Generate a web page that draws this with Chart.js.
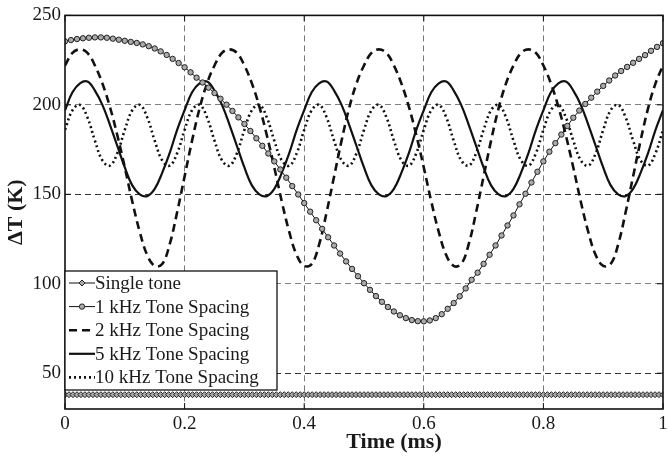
<!DOCTYPE html>
<html>
<head>
<meta charset="utf-8">
<script src="https://cdn.jsdelivr.net/npm/chart.js@4/dist/chart.umd.min.js"></script>
<style>
  body { margin: 0; background: #fff; }
  #wrap { width: 668px; height: 461px; }
</style>
</head>
<body>
<div id="wrap"><canvas id="chart" width="668" height="461"></canvas></div>
<script>
// tick positions
const xTicks = [0, 0.2, 0.4, 0.6, 0.8, 1];
const yTicks = [50, 100, 150, 200, 250];

// sample times (ms)
const steps = n => Array.from({ length: n + 1 }, (_, i) => i / n);
const tSingle = steps(150);
const t1k = steps(100);
const tWave = steps(80);

// Delta T (K)
const singleTone = [
  38,38,38,38,38,38,38,38,38,38,38,38,38,38,38,38,38,38,38,38,38,38,38,38,38,
  38,38,38,38,38,38,38,38,38,38,38,38,38,38,38,38,38,38,38,38,38,38,38,38,38,
  38,38,38,38,38,38,38,38,38,38,38,38,38,38,38,38,38,38,38,38,38,38,38,38,38,
  38,38,38,38,38,38,38,38,38,38,38,38,38,38,38,38,38,38,38,38,38,38,38,38,38,
  38,38,38,38,38,38,38,38,38,38,38,38,38,38,38,38,38,38,38,38,38,38,38,38,38,
  38,38,38,38,38,38,38,38,38,38,38,38,38,38,38,38,38,38,38,38,38,38,38,38,38,38
];
const spacing1k = [
  235.5,236.2,236.8,237.2,237.5,237.7,237.7,237.5,237.0,236.4,
  235.8,235.2,234.6,233.8,232.8,231.5,229.9,227.9,225.7,223.4,
  221.0,218.2,215.2,212.5,209.6,206.6,203.4,200.1,196.6,193.0,
  189.3,185.4,181.3,177.1,172.8,168.4,163.9,159.3,154.6,149.9,
  145.1,140.3,135.5,130.7,126.0,121.4,116.9,112.5,108.3,104.2,
  100.3,96.6,93.1,89.9,87.0,84.5,82.4,80.8,79.7,79.1,
  79.0,79.5,80.8,83.0,86.0,89.2,93.0,97.4,102.2,106.2,
  111.1,116.2,121.4,127.0,132.6,138.2,144.4,150.3,156.6,162.6,
  168.4,173.8,178.6,183.4,188.2,192.8,196.8,200.5,204.0,207.4,
  210.6,213.6,216.4,218.9,221.2,223.5,225.7,227.8,230.2,232.4,
  234.5
];
const spacing2k = [
  222,229,231,229,222,212,199,183,165,146,129,116,110,111,122,140,160,180,198,212,
  222,229,231,229,222,212,199,183,165,146,129,116,110,111,122,140,160,180,198,212,
  222,229,231,229,222,212,199,183,165,146,129,116,110,111,122,140,160,180,198,212,
  222,229,231,229,222,212,199,183,165,146,129,116,110,111,122,140,160,180,198,212,
  222
];
const spacing5k = [
  197,207,212,213,208,200,189,177,165,155,150,149,153,162,173,186,
  197,207,212,213,208,200,189,177,165,155,150,149,153,162,173,186,
  197,207,212,213,208,200,189,177,165,155,150,149,153,162,173,186,
  197,207,212,213,208,200,189,177,165,155,150,149,153,162,173,186,
  197,207,212,213,208,200,189,177,165,155,150,149,153,162,173,186,
  197
];
const spacing10k = [
  186,197,200,193,180,169,166,173, 186,197,200,193,180,169,166,173,
  186,197,200,193,180,169,166,173, 186,197,200,193,180,169,166,173,
  186,197,200,193,180,169,166,173, 186,197,200,193,180,169,166,173,
  186,197,200,193,180,169,166,173, 186,197,200,193,180,169,166,173,
  186,197,200,193,180,169,166,173, 186,197,200,193,180,169,166,173,
  186
];

const serif = '"Liberation Serif", "Times New Roman", serif';
const pts = (xs, ys) => xs.map((x, i) => ({ x: x, y: ys[i] }));

const series = [
  { label: 'Single tone', data: pts(tSingle, singleTone), width: 1, dash: [], marker: 'rectRot', r: 3 },
  { label: '1 kHz Tone Spacing', data: pts(t1k, spacing1k), width: 1, dash: [], marker: 'circle', r: 2.7 },
  { label: '2 kHz Tone Spacing', data: pts(tWave, spacing2k), width: 2.6, dash: [8, 5], marker: null },
  { label: '5 kHz Tone Spacing', data: pts(tWave, spacing5k), width: 2.2, dash: [], marker: null },
  { label: '10 kHz Tone Spacing', data: pts(tWave, spacing10k), width: 2.6, dash: [2, 3], marker: null }
];

// box, inward ticks, legend and x title
const frame = {
  id: 'frame',
  afterDatasetsDraw(chart) {
    const { ctx, chartArea: a, scales: { x, y } } = chart;
    const seg = (x1, y1, x2, y2) => { ctx.beginPath(); ctx.moveTo(x1, y1); ctx.lineTo(x2, y2); ctx.stroke(); };
    ctx.save();
    ctx.strokeStyle = '#111';
    ctx.lineWidth = 1;
    xTicks.forEach(v => {
      const px = x.getPixelForValue(v);
      seg(px, a.bottom, px, a.bottom - 6);
      seg(px, a.top, px, a.top + 6);
    });
    yTicks.forEach(v => {
      const py = y.getPixelForValue(v);
      seg(a.left, py, a.left + 6, py);
      seg(a.right, py, a.right - 6, py);
    });
    ctx.lineWidth = 1.6;
    ctx.strokeRect(a.left, a.top, a.width, a.height);

    // legend
    const lx = a.left, ly = 271, lw = 212, lh = 119;
    ctx.fillStyle = '#fff';
    ctx.fillRect(lx, ly, lw, lh);
    ctx.lineWidth = 1.3;
    ctx.strokeRect(lx, ly, lw, lh);
    ctx.font = '19px ' + serif;
    ctx.textAlign = 'left';
    ctx.textBaseline = 'middle';
    series.forEach((s, i) => {
      const ry = 283 + i * 23.6;
      ctx.strokeStyle = '#111';
      ctx.lineWidth = s.width;
      ctx.setLineDash(s.dash);
      seg(lx + 4, ry, lx + 30, ry);
      ctx.setLineDash([]);
      if (s.marker) {
        ctx.lineWidth = 1;
        ctx.strokeStyle = '#222';
        ctx.fillStyle = '#aaa';
        ctx.beginPath();
        if (s.marker === 'circle') {
          ctx.arc(lx + 17, ry, 2.7, 0, Math.PI * 2);
        } else {
          ctx.moveTo(lx + 17, ry - 3); ctx.lineTo(lx + 20, ry);
          ctx.lineTo(lx + 17, ry + 3); ctx.lineTo(lx + 14, ry); ctx.closePath();
        }
        ctx.fill(); ctx.stroke();
      }
      ctx.fillStyle = '#1a1a1a';
      ctx.fillText(s.label, lx + 30, ry + 1);
    });

    ctx.font = 'bold 22px ' + serif;
    ctx.textAlign = 'center';
    ctx.fillStyle = '#1a1a1a';
    ctx.fillText('Time (ms)', 394, 442);
    ctx.restore();
  }
};

new Chart(document.getElementById('chart'), {
  type: 'line',
  data: {
    datasets: series.map(s => ({
      label: s.label,
      data: s.data,
      borderColor: '#111',
      borderWidth: s.width,
      borderDash: s.dash,
      tension: s.marker ? 0 : 0.4,
      pointStyle: s.marker || 'circle',
      pointRadius: s.marker ? s.r : 0,
      pointBorderWidth: 1,
      pointBorderColor: '#222',
      pointBackgroundColor: '#aaa',
      fill: false
    }))
  },
  options: {
    responsive: false,
    animation: false,
    events: [],
    layout: { padding: { top: 11, right: 1, left: 0, bottom: 0 } },
    plugins: { legend: { display: false }, tooltip: { enabled: false } },
    scales: {
      x: {
        type: 'linear',
        min: 0,
        max: 1,
        afterBuildTicks: s => { s.ticks = xTicks.map(v => ({ value: v })); },
        afterFit: s => { s.height = 52; s.paddingLeft = 0; s.paddingRight = 0; },
        border: { display: false, dash: [6, 4] },
        grid: {
          drawTicks: false,
          lineWidth: 1,
          color: c => (c.tick && (c.tick.value === 0 || c.tick.value === 1)) ? 'rgba(0,0,0,0)' : '#777'
        },
        ticks: {
          padding: 4,
          color: '#1a1a1a',
          font: { family: serif, size: 19 },
          callback: v => String(v)
        }
      },
      y: {
        min: 30,
        max: 250,
        afterBuildTicks: s => { s.ticks = yTicks.map(v => ({ value: v })); },
        afterFit: s => { s.width = 65; },
        border: { display: false, dash: [6, 4] },
        grid: {
          drawTicks: false,
          lineWidth: 1,
          color: c => {
            const v = c.tick ? c.tick.value : 0;
            if (v === 250) return 'rgba(0,0,0,0)';
            return (v === 200 || v === 100) ? '#808080' : '#333';
          }
        },
        ticks: {
          padding: 4,
          color: '#1a1a1a',
          font: { family: serif, size: 19 }
        },
        title: {
          display: true,
          text: 'ΔT (K)',
          color: '#1a1a1a',
          font: { family: serif, size: 22, weight: 'bold' },
          padding: { top: 3, bottom: 0 }
        }
      }
    }
  },
  plugins: [frame]
});
</script>
</body>
</html>
